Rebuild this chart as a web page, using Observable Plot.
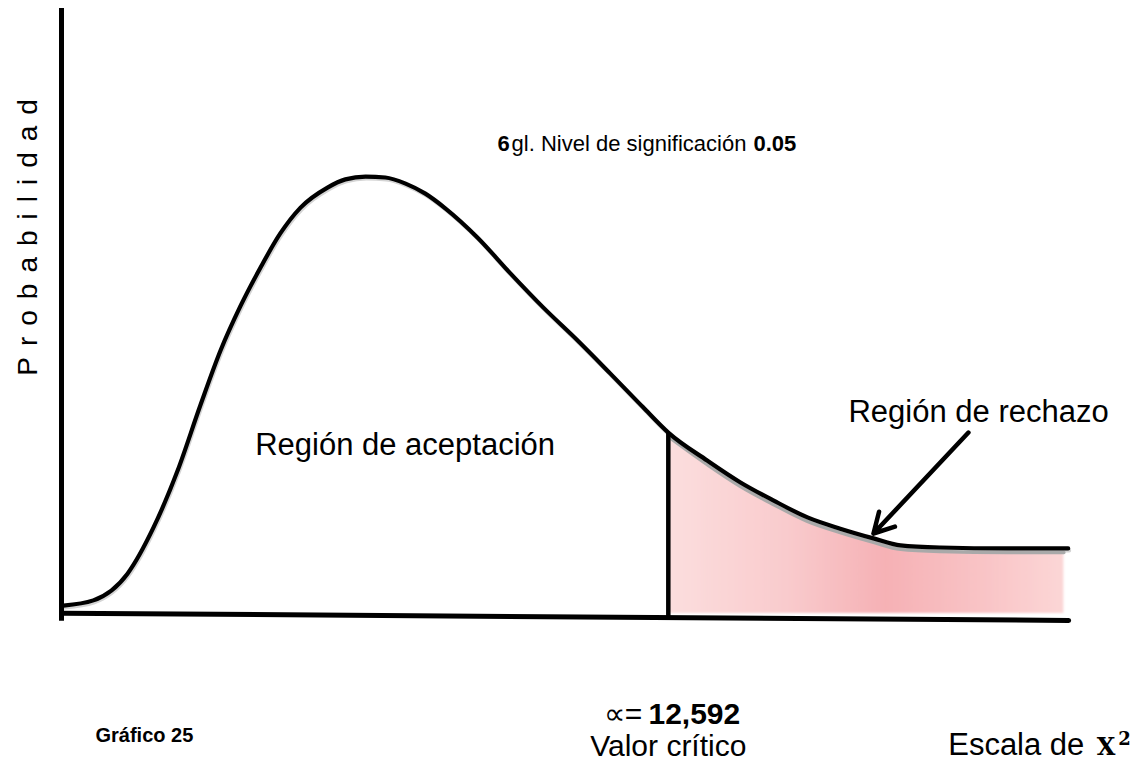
<!DOCTYPE html>
<html>
<head>
<meta charset="utf-8">
<script src="https://cdn.jsdelivr.net/npm/d3@7"></script>
<script src="https://cdn.jsdelivr.net/npm/@observablehq/plot@0.6"></script>
<style>
  html, body { margin: 0; padding: 0; background: #ffffff; }
  #chart svg { display: block; }
</style>
</head>
<body>
<div id="chart"></div>
<script>
// ---- Data (chi-square scale on x, probability density on y) ----
const chiX = [0.04, 0.66, 1.37, 1.91, 2.41, 2.88, 3.30, 3.71, 4.13, 4.54, 4.96, 5.52, 5.89, 6.31, 6.72, 7.14, 7.55, 7.97, 8.63, 9.32, 10.00, 10.71, 11.39, 12.07, 12.592, 13.40, 14.09, 14.77, 15.48, 16.16, 16.85, 17.41, 18.24, 19.63, 20.89];
const prob = [0.0036, 0.0053, 0.0141, 0.0293, 0.0480, 0.0694, 0.0875, 0.1020, 0.1148, 0.1260, 0.1345, 0.1411, 0.1438, 0.1447, 0.1444, 0.1424, 0.1391, 0.1342, 0.1247, 0.1128, 0.1016, 0.0908, 0.0799, 0.0688, 0.0605, 0.0513, 0.0441, 0.0382, 0.0326, 0.0289, 0.0257, 0.0234, 0.0227, 0.0224, 0.0224];

const criticalValue = 12.592;
const tailEnd = 20.8;
const axisEnd = 20.9;
const yTop = 0.2;

// ---- Texts ----
const yLabel = "Probabilidad";
const titleBold1 = "6";
const titleText = "gl. Nivel de significación";
const titleBold2 = "0.05";
const acceptLabel = "Región de aceptación";
const rejectLabel = "Región de rechazo";
const alphaSymbol = "∝=";
const criticalLabel = "12,592";
const criticalName = "Valor crítico";
const captionLabel = "Gráfico 25";
const xLabel = "Escala de";
const xSymbol = "X";
const xExponent = "2";

// ---- Derived tables ----
const curve = chiX.map((x, i) => ({x, y: prob[i]}));
const tail = curve
  .filter(d => d.x >= criticalValue)
  .map(d => ({x: Math.min(d.x, tailEnd), y: d.y}));
const critY = prob[chiX.indexOf(criticalValue)];

const font = "'Liberation Sans', Arial, Helvetica, sans-serif";
const serif = "'DejaVu Serif', 'Liberation Serif', serif";

const chart = Plot.plot({
  width: 1140,
  height: 765,
  margin: 0,
  x: {domain: [0, 21], range: [61, 1073], axis: null},
  y: {domain: [0, yTop], range: [616, 8], axis: null},
  style: {background: "#ffffff", fontFamily: font, color: "#000"},
  marks: [
    // shaded rejection region
    Plot.areaY(tail, {x: "x", y1: d => 0.001, y2: "y", curve: "monotone-x", fill: "url(#pinkGrad)"}),
    // soft shadows
    Plot.line(curve, {x: "x", y: "y", curve: "monotone-x", stroke: "#d4d4d4", strokeWidth: 4, dx: 1, dy: 2}),
    Plot.line(tail, {x: "x", y: "y", curve: "monotone-x", stroke: "#a9a9a9", strokeWidth: 3.5, dy: 4}),
    // density curve
    Plot.line(curve, {x: "x", y: "y", curve: "monotone-x", stroke: "#000", strokeWidth: 4.2}),
    // critical value line
    Plot.ruleX([criticalValue], {y1: 0, y2: critY, stroke: "#000", strokeWidth: 4.5}),
    // axes
    Plot.ruleX([0], {y1: -0.0016, y2: yTop, stroke: "#000", strokeWidth: 5}),
    Plot.line([{x: 0, y: 0.0011}, {x: axisEnd, y: -0.0013}], {x: "x", y: "y", stroke: "#000", strokeWidth: 5}),
    // arrow to rejection region
    Plot.arrow([{x1: 18.82, y1: 0.0605, x2: 16.85, y2: 0.0273}], {x1: "x1", y1: "y1", x2: "x2", y2: "y2", stroke: "#000", strokeWidth: 4.5, headLength: 7.5, headAngle: 58}),
    // texts
    Plot.text([yLabel], {x: -0.50, y: 0.1265, text: d => d, rotate: -90, textAnchor: "middle", lineAnchor: "bottom", fontSize: 28, fill: "#000"}),
    Plot.text([titleBold1], {x: 9.05, y: 0.153, text: d => d, textAnchor: "start", lineAnchor: "bottom", fontSize: 22, fontWeight: "bold", fill: "#000"}),
    Plot.text([titleText], {x: 9.34, y: 0.153, text: d => d, textAnchor: "start", lineAnchor: "bottom", fontSize: 22, fill: "#000"}),
    Plot.text([titleBold2], {x: 14.36, y: 0.153, text: d => d, textAnchor: "start", lineAnchor: "bottom", fontSize: 22, fontWeight: "bold", fill: "#000"}),
    Plot.text([acceptLabel], {x: 7.13, y: 0.053, text: d => d, textAnchor: "middle", lineAnchor: "bottom", fontSize: 31, fill: "#000"}),
    Plot.text([rejectLabel], {x: 16.33, y: 0.064, text: d => d, textAnchor: "start", lineAnchor: "bottom", fontSize: 31, fill: "#000"}),
    Plot.text([alphaSymbol], {x: 12.05, y: -0.0355, text: d => d, textAnchor: "end", lineAnchor: "bottom", fontSize: 30, fill: "#000"}),
    Plot.text([criticalLabel], {x: 12.18, y: -0.0355, text: d => d, textAnchor: "start", lineAnchor: "bottom", fontSize: 30, fontWeight: "bold", fill: "#000"}),
    Plot.text([criticalName], {x: criticalValue, y: -0.046, text: d => d, textAnchor: "middle", lineAnchor: "bottom", fontSize: 30, fill: "#000"}),
    Plot.text([captionLabel], {x: 0.705, y: -0.0414, text: d => d, textAnchor: "start", lineAnchor: "bottom", fontSize: 20, fontWeight: "bold", fill: "#000"}),
    Plot.text([xLabel], {x: 18.40, y: -0.0457, text: d => d, textAnchor: "start", lineAnchor: "bottom", fontSize: 31, fill: "#000"}),
    Plot.text([xSymbol], {x: 21.48, y: -0.0457, text: d => d, textAnchor: "start", lineAnchor: "bottom", fontSize: 24, fontWeight: "bold", fontFamily: serif, fill: "#000"}),
    Plot.text([xExponent], {x: 21.93, y: -0.0422, text: d => d, textAnchor: "start", lineAnchor: "bottom", fontSize: 18, fontWeight: "bold", fontFamily: serif, fill: "#000"})
  ]
});

// gradient + soft blur definitions
const svg = d3.select(chart);
const defs = svg.insert("defs", ":first-child");
const grad = defs.append("linearGradient").attr("id", "pinkGrad").attr("x1", "0").attr("y1", "0").attr("x2", "1").attr("y2", "0");
grad.append("stop").attr("offset", "0%").attr("stop-color", "#fbdede");
grad.append("stop").attr("offset", "30%").attr("stop-color", "#f9cbcd");
grad.append("stop").attr("offset", "55%").attr("stop-color", "#f6b1b5");
grad.append("stop").attr("offset", "80%").attr("stop-color", "#f9c4c6");
grad.append("stop").attr("offset", "100%").attr("stop-color", "#fbd6d6");
defs.append("filter").attr("id", "soft").attr("x", "-5%").attr("y", "-5%").attr("width", "110%").attr("height", "110%")
  .append("feGaussianBlur").attr("stdDeviation", 1.2);
svg.selectAll("g[aria-label='area'] path").attr("filter", "url(#soft)");

// letter-spaced vertical axis label
svg.selectAll("text").filter(function () { return this.textContent === yLabel; })
  .attr("letter-spacing", "11px");

document.getElementById("chart").appendChild(chart);
</script>
</body>
</html>
